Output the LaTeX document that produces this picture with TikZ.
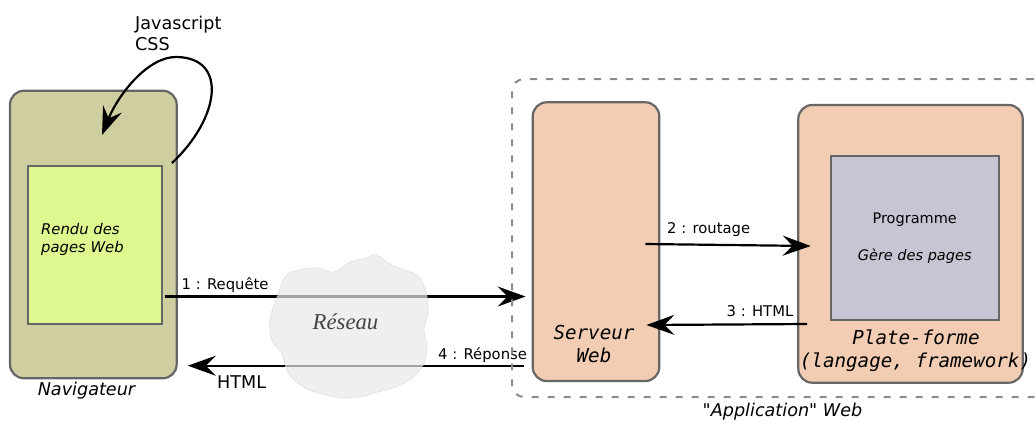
\documentclass[tikz,border=0pt]{standalone}
\usepackage{fontspec}
\setmainfont{DejaVu Sans}
\newfontfamily\plainsans{DejaVu Sans}
\newfontfamily\codefont{DejaVu Sans Mono}
\newfontfamily\netfont{Liberation Serif}
\usetikzlibrary{arrows.meta,calc}

\definecolor{navfill}{RGB}{207,206,161}
\definecolor{renderfill}{RGB}{222,247,143}
\definecolor{peach}{RGB}{243,205,179}
\definecolor{progfill}{RGB}{201,196,211}
\definecolor{edgegray}{RGB}{102,102,102}
\definecolor{dashgray}{RGB}{140,140,140}
\definecolor{cloudfill}{RGB}{232,232,232}
\definecolor{cloudtext}{RGB}{68,68,68}

\newcommand{\fsz}[1]{\fontsize{#1}{#1}\selectfont}

\begin{document}
\begin{tikzpicture}[x=1pt,y=-1pt,
  roundbox/.style={draw=edgegray, line width=2.2pt, rounded corners=14pt, inner sep=0pt},
  panel/.style={draw=edgegray, line width=2.2pt, inner sep=0pt},
  appframe/.style={draw=dashgray, line width=2pt, dash pattern=on 7pt off 9pt, rounded corners=12pt, inner sep=0pt},
  bigtip/.style={-{Stealth[length=28pt,width=20pt,inset=10pt]}},
  flow/.style={line width=2.2pt, bigtip},
  txt/.style={inner sep=0pt, anchor=base west},
  ctxt/.style={inner sep=0pt, anchor=base},
  bigfont/.style={font=\fsz{17.6}},
  smallfont/.style={font=\fsz{14.8}},
  codetxt/.style={font=\fsz{19.2}\codefont\itshape},
]
\useasboundingbox (0,0) rectangle (1035,424);

% ---- browser ----
\node[roundbox, fill=navfill, minimum width=166.7pt, minimum height=287.6pt] (nav) at (93.35,234.5) {};
\node[panel, fill=renderfill, minimum width=134pt, minimum height=158.3pt] (render) at (95.3,244.85) {};
\node[txt, smallfont] (rendu1) at (41,234) {\itshape Rendu des};
\node[txt, smallfont] (rendu2) at (41,252.7) {\itshape pages Web};
\node[ctxt, bigfont] (navlbl) at (86.5,395) {\itshape Navigateur};

% client-side scripts loop
\node[txt, bigfont] (js) at (135,29.5) {Javascript};
\node[txt, bigfont] (css) at (135,50.5) {CSS};
\coordinate (loopstart) at (172,163);
\coordinate (looptip) at (102,135);
\draw[line width=2.2pt, bigtip]
  (loopstart) .. controls (220,118) and (228,58) .. (177,57)
              .. controls (148,56) and (118,95) .. (looptip);

% ---- server side ----
\node[roundbox, fill=peach, minimum width=126.6pt, minimum height=278.7pt] (server) at (596,241.65) {};
\node[ctxt, codetxt] (srv1) at (594,339.3) {Serveur};
\node[ctxt, codetxt] (srv2) at (594,362.5) {Web};

\node[roundbox, fill=peach, minimum width=224.4pt, minimum height=277.7pt] (plat) at (910.5,243.85) {};
\node[panel, fill=progfill, minimum width=168pt, minimum height=164.3pt] (prog) at (914.7,237.85) {};
\node[ctxt, font=\fsz{14.5}] (progname) at (914.7,223.3) {Programme};
\node[ctxt, font=\fsz{14.5}] (progrole) at (914.7,260) {\itshape Gère des pages};
\node[ctxt, codetxt] (plat1) at (916,344) {Plate-forme};
\node[ctxt, codetxt] (plat2) at (915.5,367) {(langage, framework)};

% ---- exchanges ----
\coordinate (yreq) at (0,296.5);
\coordinate (yresp) at (0,365.7);
\coordinate (yroute) at (0,244);
\coordinate (yroute2) at (0,246);
\coordinate (yback) at (0,324);
\coordinate (yback2) at (0,325);

\draw[flow] ([xshift=1.5pt]render.east |- yreq) -- ([xshift=-6pt]server.west |- yreq);
\node[txt, smallfont] (reqlbl) at (181.5,289.3) {1 : Requête};

\draw[flow] ([xshift=-8pt]server.west |- yresp) -- ([xshift=10pt]nav.east |- yresp);
\node[txt, smallfont] (resplbl) at (438,359) {4 : Réponse};
\node[txt, bigfont] (htmlback) at (217,388) {HTML};

\draw[flow] ([xshift=-15pt]server.east |- yroute) -- ([xshift=13.5pt]plat.west |- yroute2);
\node[txt, smallfont] (routelbl) at (667,233.3) {2 : routage};

\draw[flow] ([xshift=10pt]plat.west |- yback) -- ([xshift=-14pt]server.east |- yback2);
\node[inner sep=0pt, anchor=base east, smallfont] (htmllbl) at (793.5,316.7) {3 : HTML};

% ---- application frame ----
\node[appframe, minimum width=533pt, minimum height=318pt] (app) at (778.5,238) {};
\node[ctxt, font=\fsz{17.6}\plainsans\itshape] (applbl) at (782.5,416) {"Application" Web};

% ---- network cloud ----
\fill[cloudfill, fill opacity=0.7, draw=gray!35, densely dotted, line width=0.8pt]
  plot[smooth cycle, tension=0.7] coordinates {
    (286,276) (300,270) (318,268) (334,272) (350,262) (366,258) (376,255)
    (390,264) (404,270) (418,276) (426,292) (428,312) (424,330) (427,350)
    (420,370) (402,384) (378,392) (350,398) (322,394) (302,386) (288,372)
    (282,354) (272,340) (270,320) (276,300)};
\node[ctxt, font=\fsz{22.7}\netfont\itshape, text=cloudtext] (net) at (345.5,329.3) {Réseau};

\end{tikzpicture}
\end{document}
